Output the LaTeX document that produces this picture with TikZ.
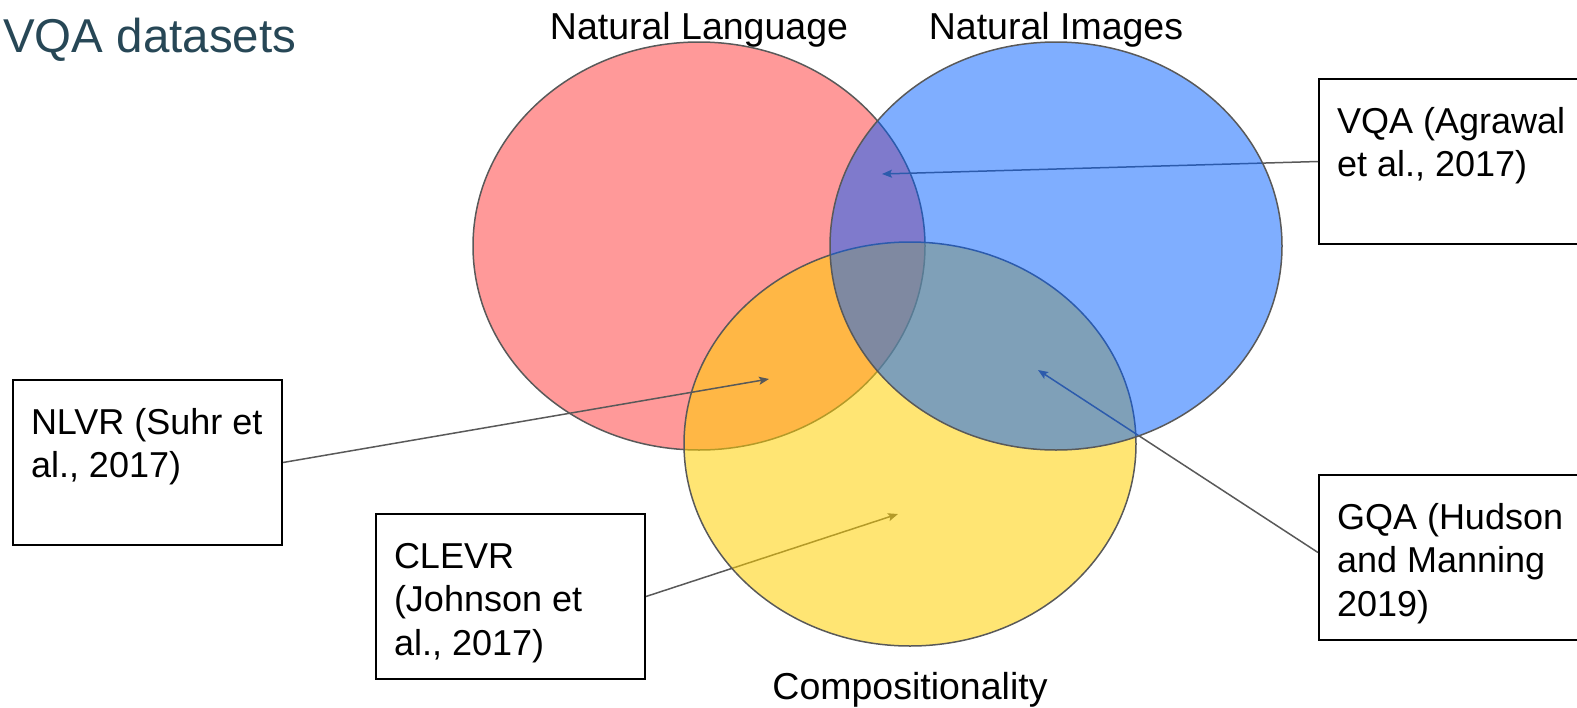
\documentclass[tikz,border=0pt]{standalone}
\usepackage{fontspec}
\setmainfont{Liberation Sans}
\usetikzlibrary{shapes.geometric,arrows.meta}

\definecolor{titlecol}{RGB}{39,71,86}
\definecolor{edgegray}{RGB}{89,89,89}
\definecolor{setred}{RGB}{255,0,0}
\definecolor{setyellow}{RGB}{255,208,0}
\definecolor{setblue}{RGB}{0,93,255}

% text block of a dataset box: top-aligned lines with a left margin
\newcommand\dsetlines[1]{\parbox[c][165pt][t]{269pt}{\raggedright\leftskip=18pt\baselineskip=43.5pt\rule{0pt}{54pt}#1}}

\tikzset{
  setcircle/.style={ellipse, draw=edgegray, line width=1.5pt, inner sep=0pt,
    minimum width=452pt, minimum height=408pt},
  setlabel/.style={anchor=base, inner sep=0pt, font=\fontsize{37.5}{44}\selectfont},
  dsetbox/.style={draw=black, line width=2pt, inner sep=0pt, anchor=north west,
    font=\fontsize{36}{43.5}\selectfont},
  pointer/.style={draw=edgegray, line width=1.5pt,
    -{Stealth[length=10pt, width=8pt, inset=2pt]}},
}

\begin{document}
\begin{tikzpicture}[x=1pt, y=-1pt]
\useasboundingbox (0,0) rectangle (1577,707);

% title
\node[anchor=base west, inner sep=0pt, text=titlecol,
      font=\fontsize{47.5}{54}\selectfont] (title) at (3,52) {VQA datasets};

% dataset boxes
\node[dsetbox] (vqa)   at (1318,78)  {\dsetlines{VQA (Agrawal\\et al., 2017)}};
\node[dsetbox] (nlvr)  at (12,379)   {\dsetlines{NLVR (Suhr et\\al., 2017)}};
\node[dsetbox] (clevr) at (375,513)  {\dsetlines{CLEVR\\(Johnson et\\al., 2017)}};
\node[dsetbox] (gqa)   at (1318,474) {\dsetlines{GQA (Hudson\\and Manning\\2019)}};

% points inside the regions
\coordinate (vqatip)   at (882,174);
\coordinate (nlvrtip)  at (769,379);
\coordinate (clevrtip) at (898,514);
\coordinate (gqatip)   at (1038,370);

% the three sets, stacked red, yellow, blue
\node[setcircle, fill=setred, fill opacity=0.4] (lang) at (699,246) {};
\draw[pointer] (clevr.east) -- (clevrtip);
\node[setcircle, fill=setyellow, fill opacity=0.55, minimum height=404pt] (comp) at (910,444) {};
\draw[pointer] (vqa.west) -- (vqatip);
\draw[pointer] ([yshift=5pt]gqa.west) -- (gqatip);
\node[setcircle, fill=setblue, fill opacity=0.5] (img) at (1056,246) {};
\draw[pointer] (nlvr.east) -- (nlvrtip);

% set names
\node[setlabel] (langname) at (699,39)  {Natural Language};
\node[setlabel] (imgname)  at (1056,39) {Natural Images};
\node[setlabel] (compname) at (910,699) {Compositionality};
\end{tikzpicture}
\end{document}
